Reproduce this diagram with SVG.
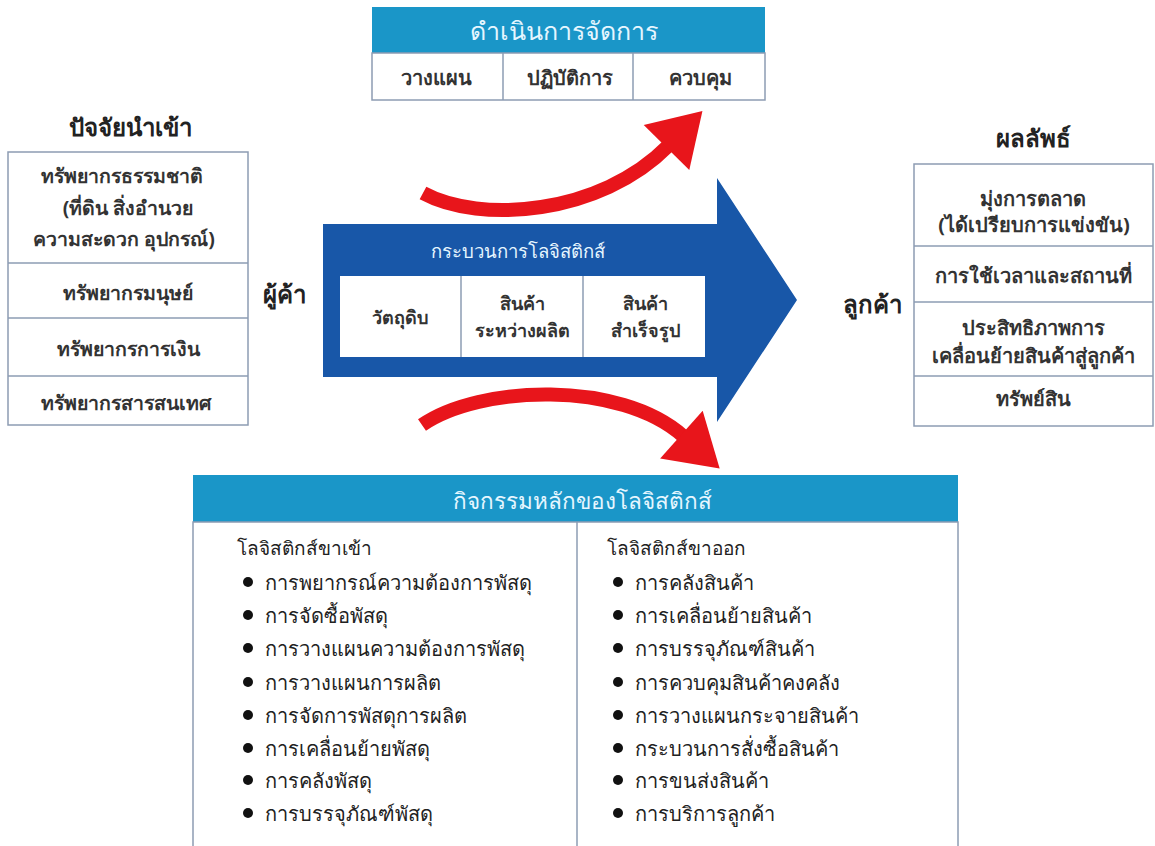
<svg xmlns="http://www.w3.org/2000/svg" width="1155" height="846" viewBox="0 0 1155 846">
<defs>
<marker id="redhead" markerUnits="userSpaceOnUse" markerWidth="54" markerHeight="64" viewBox="0 0 48 60" refX="2" refY="30" orient="auto">
<path d="M0,0 L48,30 L0,60 z" fill="#e8151b"/>
</marker>
<style>
text{font-family:"Noto Sans","DejaVu Sans",sans-serif;fill:#222;text-anchor:middle;dominant-baseline:central}
.cell{fill:#fff;stroke:#8d9cb3;stroke-width:1.5}
.div{stroke:#8d9cb3;stroke-width:1.5}
.hdr{fill:#1a96c8}
.hdrt{fill:#e6f6ff}
.t{font-size:18px;font-weight:bold;fill:#333}
.tl{font-size:19.5px}
.tr{font-size:20px}
.title{font-size:24px;font-weight:bold}
.side{font-size:24px;font-weight:bold}
.li{font-size:20px;text-anchor:start}
.lh{font-size:19px;text-anchor:start}
.red{fill:none;stroke:#e8151b;stroke-width:14;marker-end:url(#redhead)}
</style>
</defs>
<rect width="1155" height="846" fill="#fff"/>

<g id="connectors">
<path class="red" d="M423,193 C480,224 600,215 668,146"/>
<path class="red" d="M422,425 C480,385 620,380 683,436"/>
</g>

<g id="management">
<rect class="hdr" x="372" y="7" width="393" height="46"/>
<text class="hdrt" x="564" y="30" style="font-size:25px">ดำเนินการจัดการ</text>
<rect class="cell" x="372" y="53" width="393" height="47"/>
<line class="div" x1="503" y1="53" x2="503" y2="100"/>
<line class="div" x1="633" y1="53" x2="633" y2="100"/>
<text class="t tr" x="436" y="77">วางแผน</text>
<text class="t tr" x="570" y="77">ปฏิบัติการ</text>
<text class="t tr" x="700" y="77">ควบคุม</text>
</g>

<g id="inputs">
<text class="title" x="130" y="126">ปัจจัยนำเข้า</text>
<rect class="cell" x="8" y="152" width="240" height="273"/>
<line class="div" x1="8" y1="263" x2="248" y2="263"/>
<line class="div" x1="8" y1="318" x2="248" y2="318"/>
<line class="div" x1="8" y1="376" x2="248" y2="376"/>
<text class="t tl" x="122" y="175">ทรัพยากรธรรมชาติ</text>
<text class="t tl" x="128" y="207">(ที่ดิน สิ่งอำนวย</text>
<text class="t tl" x="124" y="238">ความสะดวก อุปกรณ์)</text>
<text class="t tl" x="128" y="292">ทรัพยากรมนุษย์</text>
<text class="t tl" x="128" y="348">ทรัพยากรการเงิน</text>
<text class="t tl" x="126" y="402">ทรัพยากรสารสนเทศ</text>
</g>

<g id="supplier">
<text class="side" x="284" y="293">ผู้ค้า</text>
</g>

<g id="process">
<path d="M323,224 H717 V178 L797,300 L717,422 V377 H323 Z" fill="#1857a8"/>
<text class="hdrt" x="518" y="250" style="font-size:18.5px">กระบวนการโลจิสติกส์</text>
<rect x="340" y="276" width="365" height="81" fill="#fff"/>
<line class="div" x1="461" y1="276" x2="461" y2="357"/>
<line class="div" x1="583" y1="276" x2="583" y2="357"/>
<text class="t" x="400" y="317">วัตถุดิบ</text>
<text class="t" x="522" y="303">สินค้า</text>
<text class="t" x="522" y="330">ระหว่างผลิต</text>
<text class="t" x="645" y="303">สินค้า</text>
<text class="t" x="645" y="330">สำเร็จรูป</text>
</g>

<g id="customer">
<text class="side" x="872" y="303">ลูกค้า</text>
</g>

<g id="outputs">
<text class="title" x="1033" y="137">ผลลัพธ์</text>
<rect class="cell" x="914" y="164" width="239" height="262"/>
<line class="div" x1="914" y1="246" x2="1153" y2="246"/>
<line class="div" x1="914" y1="302" x2="1153" y2="302"/>
<line class="div" x1="914" y1="376" x2="1153" y2="376"/>
<text class="t tr" x="1033" y="198">มุ่งการตลาด</text>
<text class="t tr" x="1034" y="224">(ได้เปรียบการแข่งขัน)</text>
<text class="t tr" x="1033" y="275">การใช้เวลาและสถานที่</text>
<text class="t tr" x="1033" y="327">ประสิทธิภาพการ</text>
<text class="t tr" x="1033" y="355">เคลื่อนย้ายสินค้าสู่ลูกค้า</text>
<text class="t tr" x="1033" y="398">ทรัพย์สิน</text>
</g>

<g id="activities">
<rect class="hdr" x="193" y="475" width="765" height="47"/>
<text class="hdrt" x="582" y="500" style="font-size:22.5px">กิจกรรมหลักของโลจิสติกส์</text>
<rect class="cell" x="193" y="522" width="765" height="330"/>
<line class="div" x1="577" y1="522" x2="577" y2="846"/>
<text class="lh" x="237" y="548">โลจิสติกส์ขาเข้า</text>
<g fill="#111">
<circle cx="248" cy="582" r="5"/><circle cx="248" cy="615" r="5"/><circle cx="248" cy="648" r="5"/><circle cx="248" cy="682" r="5"/>
<circle cx="248" cy="715" r="5"/><circle cx="248" cy="748" r="5"/><circle cx="248" cy="780" r="5"/><circle cx="248" cy="813" r="5"/>
</g>
<text class="li" x="265" y="582">การพยากรณ์ความต้องการพัสดุ</text>
<text class="li" x="265" y="615">การจัดซื้อพัสดุ</text>
<text class="li" x="265" y="648">การวางแผนความต้องการพัสดุ</text>
<text class="li" x="265" y="682">การวางแผนการผลิต</text>
<text class="li" x="265" y="715">การจัดการพัสดุการผลิต</text>
<text class="li" x="265" y="748">การเคลื่อนย้ายพัสดุ</text>
<text class="li" x="265" y="780">การคลังพัสดุ</text>
<text class="li" x="265" y="813">การบรรจุภัณฑ์พัสดุ</text>
<text class="lh" x="607" y="548">โลจิสติกส์ขาออก</text>
<g fill="#111">
<circle cx="618" cy="582" r="5"/><circle cx="618" cy="615" r="5"/><circle cx="618" cy="648" r="5"/><circle cx="618" cy="682" r="5"/>
<circle cx="618" cy="715" r="5"/><circle cx="618" cy="748" r="5"/><circle cx="618" cy="780" r="5"/><circle cx="618" cy="813" r="5"/>
</g>
<text class="li" x="635" y="582">การคลังสินค้า</text>
<text class="li" x="635" y="615">การเคลื่อนย้ายสินค้า</text>
<text class="li" x="635" y="648">การบรรจุภัณฑ์สินค้า</text>
<text class="li" x="635" y="682">การควบคุมสินค้าคงคลัง</text>
<text class="li" x="635" y="715">การวางแผนกระจายสินค้า</text>
<text class="li" x="635" y="748">กระบวนการสั่งซื้อสินค้า</text>
<text class="li" x="635" y="780">การขนส่งสินค้า</text>
<text class="li" x="635" y="813">การบริการลูกค้า</text>
</g>
</svg>
